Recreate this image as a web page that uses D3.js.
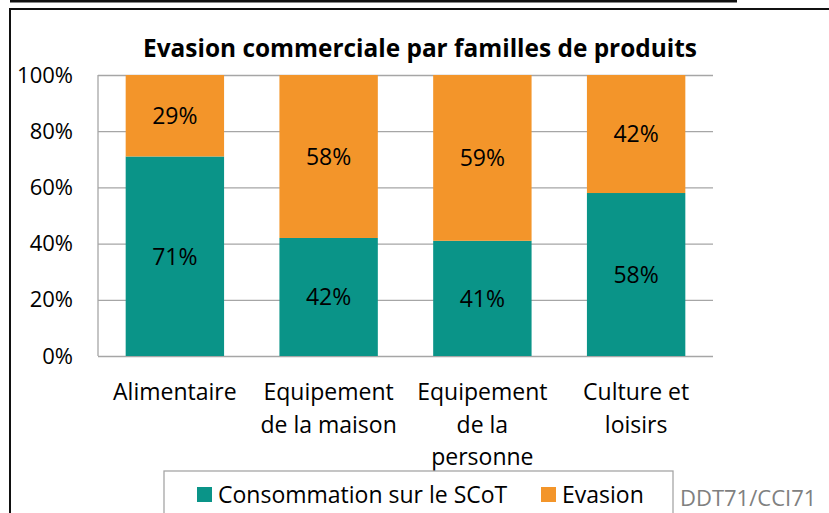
<!DOCTYPE html>
<html>
<head>
<meta charset="utf-8">
<script src="https://cdn.jsdelivr.net/npm/d3@7"></script>
<style>
  html, body { margin: 0; padding: 0; background: #ffffff; }
  svg { display: block; }
  text { font-family: "Open Sans", "Noto Sans", sans-serif; }
</style>
</head>
<body>
<script>
// ---- Data ----
const categories = ["Alimentaire", "Equipement de la maison", "Equipement de la personne", "Culture et loisirs"];
const categoryLines = [["Alimentaire"], ["Equipement", "de la maison"], ["Equipement", "de la", "personne"], ["Culture et", "loisirs"]];
const seriesNames = ["Consommation sur le SCoT", "Evasion"];
const consommation = [71, 42, 41, 58];
const evasion = [29, 58, 59, 42];
const yTicks = [0, 20, 40, 60, 80, 100];
const titleText = "Evasion commerciale par familles de produits";
const sourceText = "DDT71/CCI71";
const colors = ["#0a9488", "#f3952a"];

const W = 829, H = 513;
const svg = d3.select("body").append("svg").attr("width", W).attr("height", H);
svg.append("rect").attr("width", W).attr("height", H).attr("fill", "#ffffff");

// Decorative frames from the original screenshot
svg.append("line").attr("x1", 10).attr("x2", 737).attr("y1", 1).attr("y2", 1)
  .attr("stroke", "#111").attr("stroke-width", 3);
svg.append("rect").attr("x", 10).attr("y", 9).attr("width", W + 20).attr("height", H + 20)
  .attr("fill", "none").attr("stroke", "#111").attr("stroke-width", 2);

// Scales
const x = d3.scaleBand().domain(categories).range([98, 713]).paddingInner(0.36).paddingOuter(0.18);
const y = d3.scaleLinear().domain([0, 100]).range([356, 75]);

// Grid + y axis
const yAxis = d3.axisLeft(y).tickValues(yTicks).tickSize(-(713 - 98)).tickPadding(25)
  .tickFormat(d => d + "%");
const gy = svg.append("g").attr("transform", "translate(98,0)").call(yAxis);
gy.select(".domain").remove();
gy.selectAll(".tick line").attr("stroke", "#a6a6a6").attr("stroke-width", 1.3);
gy.selectAll(".tick text").attr("fill", "#000").attr("font-size", 22)
  .style("font-family", "'Open Sans', sans-serif");
svg.append("line").attr("x1", 98).attr("x2", 98).attr("y1", y(100)).attr("y2", y(0))
  .attr("stroke", "#a6a6a6").attr("stroke-width", 1.3);

// Stacked data
const stackData = categories.map((c, i) => ({ cat: c, cons: consommation[i], eva: evasion[i] }));
const stack = d3.stack().keys(["cons", "eva"])(stackData);

const layers = svg.append("g").selectAll("g").data(stack).join("g")
  .attr("fill", (d, i) => colors[i]);
layers.selectAll("rect").data(d => d).join("rect")
  .attr("x", d => x(d.data.cat))
  .attr("width", x.bandwidth())
  .attr("y", d => y(d[1]))
  .attr("height", d => y(d[0]) - y(d[1]));

// Value labels
stack.forEach(layer => {
  svg.append("g").selectAll("text").data(layer).join("text")
    .attr("x", d => x(d.data.cat) + x.bandwidth() / 2)
    .attr("y", d => (y(d[0]) + y(d[1])) / 2)
    .attr("dy", "0.36em")
    .attr("text-anchor", "middle")
    .attr("font-size", 23)
    .attr("fill", "#000")
    .text(d => (d[1] - d[0]) + "%");
});

// Category labels
categories.forEach((c, i) => {
  const t = svg.append("text")
    .attr("x", x(c) + x.bandwidth() / 2)
    .attr("y", 400)
    .attr("text-anchor", "middle")
    .attr("font-size", 23)
    .attr("fill", "#000");
  categoryLines[i].forEach((line, j) => {
    t.append("tspan").attr("x", x(c) + x.bandwidth() / 2).attr("y", 400 + j * 32.5).text(line);
  });
});

// Title (fit to original width)
const title = svg.append("text").attr("x", 420).attr("y", 57).attr("text-anchor", "middle")
  .attr("font-weight", "bold").attr("font-size", 22).attr("fill", "#000").text(titleText);
const tw = title.node().getComputedTextLength();
title.attr("font-size", 22 * 554 / tw);

// Legend
svg.append("rect").attr("x", 164).attr("y", 471).attr("width", 509).attr("height", 60)
  .attr("fill", "#fff").attr("stroke", "#a6a6a6").attr("stroke-width", 1.3);
const legendX = [197, 541];
seriesNames.forEach((s, i) => {
  svg.append("rect").attr("x", legendX[i]).attr("y", 487).attr("width", 15).attr("height", 15)
    .attr("fill", colors[i]);
  svg.append("text").attr("x", legendX[i] + 21).attr("y", 503).attr("font-size", 23)
    .attr("fill", "#000").text(s);
});

// Source
svg.append("text").attr("x", 680).attr("y", 506).attr("font-size", 22)
  .attr("fill", "#808080").text(sourceText);
</script>
</body>
</html>
